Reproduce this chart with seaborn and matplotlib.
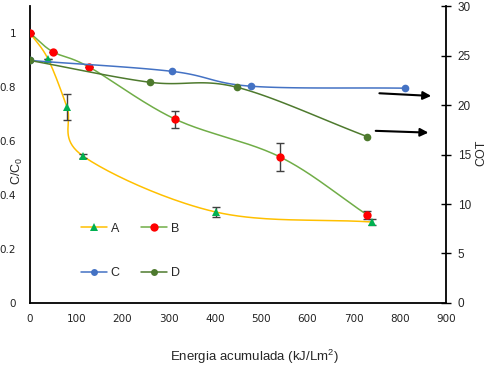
import numpy as np
import seaborn as sns
import matplotlib.pyplot as plt
from matplotlib.lines import Line2D

# ---------------------------------------------------------
# Datos
# ---------------------------------------------------------
a_x = [0, 39, 80, 115, 402, 740]
a_y = [1.0, 0.904, 0.726, 0.544, 0.337, 0.300]
a_err = [0, 0, 0.048, 0.008, 0.017, 0.010]

b_x = [0, 49, 128, 314, 541, 729]
b_y = [1.0, 0.931, 0.874, 0.681, 0.541, 0.327]
b_err = [0, 0, 0, 0.031, 0.053, 0.015]

# C y D se leen en el eje derecho (COT)
c_x = [0, 307, 478, 811]
c_cot = [24.5, 23.4, 21.9, 21.7]

d_x = [0, 259, 447, 730]
d_cot = [24.5, 22.3, 21.8, 16.8]

x_ticks = [0, 100, 200, 300, 400, 500, 600, 700, 800, 900]
left_ticks = [0, 0.2, 0.4, 0.6, 0.8, 1.0]
left_labels = ['0', '0.2', '0.4', '0.6', '0.8', '1']
right_ticks = [0, 5, 10, 15, 20, 25, 30]

col_yellow = '#FFC000'
col_tri = '#00B050'
col_red = '#FF0000'
col_bline = '#70AD47'
col_blue = '#4472C4'
col_dgreen = '#4E7A2E'
col_err = '#404040'


def smooth(x, y, n=40):
    # curva suavizada tipo Excel (Catmull-Rom) entre los puntos
    x = np.asarray(x, float)
    y = np.asarray(y, float)
    px = np.concatenate([[2 * x[0] - x[1]], x, [2 * x[-1] - x[-2]]])
    py = np.concatenate([[2 * y[0] - y[1]], y, [2 * y[-1] - y[-2]]])
    xs, ys = [], []
    t = np.linspace(0, 1, n)
    for i in range(1, len(px) - 2):
        for arr, out in ((px, xs), (py, ys)):
            p0, p1, p2, p3 = arr[i - 1], arr[i], arr[i + 1], arr[i + 2]
            m1 = (p2 - p0) / 2
            m2 = (p3 - p1) / 2
            h00 = 2 * t**3 - 3 * t**2 + 1
            h10 = t**3 - 2 * t**2 + t
            h01 = -2 * t**3 + 3 * t**2
            h11 = t**3 - t**2
            out.extend(h00 * p1 + h10 * m1 + h01 * p2 + h11 * m2)
    return np.array(xs), np.array(ys)


sns.set_theme(style="white")
plt.rcParams['font.family'] = ['DejaVu Sans']

fig = plt.figure(figsize=(4.89, 3.71), dpi=100)
ax = fig.add_axes([0.0613, 0.1833, 0.8507, 0.8005])
ax2 = ax.twinx()

mk = dict(ls='none', mew=0)

# Serie A
sx, sy = smooth(a_x, a_y)
sns.lineplot(x=sx, y=sy, sort=False, estimator=None, color=col_yellow, lw=1.1, ax=ax)
ax.errorbar(a_x, a_y, yerr=a_err, fmt='none', ecolor=col_err, elinewidth=1, capsize=3, capthick=1, zorder=4)
ax.plot(a_x, a_y, marker='^', ms=6, color=col_tri, zorder=5, **mk)

# Serie B
sx, sy = smooth(b_x, b_y)
sns.lineplot(x=sx, y=sy, sort=False, estimator=None, color=col_bline, lw=1.1, ax=ax)
ax.errorbar(b_x, b_y, yerr=b_err, fmt='none', ecolor=col_err, elinewidth=1, capsize=3, capthick=1, zorder=4)
ax.plot(b_x, b_y, marker='o', ms=6, color=col_red, zorder=5, **mk)

# Series C y D (eje derecho)
sx, sy = smooth(c_x, c_cot)
sns.lineplot(x=sx, y=sy, sort=False, estimator=None, color=col_blue, lw=1.1, ax=ax2)
ax2.plot(c_x, c_cot, marker='o', ms=5.5, color=col_blue, zorder=5, **mk)
sx, sy = smooth(d_x, d_cot)
sns.lineplot(x=sx, y=sy, sort=False, estimator=None, color=col_dgreen, lw=1.1, ax=ax2)
ax2.plot(d_x, d_cot, marker='o', ms=5.5, color=col_dgreen, zorder=6, **mk)

# Flechas hacia el eje COT
ax2.annotate('', xy=(874, 20.9), xytext=(750, 21.2),
             arrowprops=dict(arrowstyle='-|>', color='black', lw=1.5, mutation_scale=12))
ax2.annotate('', xy=(868, 17.2), xytext=(742, 17.4),
             arrowprops=dict(arrowstyle='-|>', color='black', lw=1.5, mutation_scale=12))

# Ejes
ax.set_xlim(0, 900)
ax.set_ylim(0, 1.1)
ax2.set_ylim(0, 30)
ax.set_xticks(x_ticks)
ax.set_xticklabels([str(v) for v in x_ticks], fontsize=7.5, color='#222222')
ax.set_yticks(left_ticks)
ax.set_yticklabels(left_labels, fontsize=7.5, color='#222222')
ax.tick_params(axis='both', length=0, pad=10)
ax.tick_params(axis='x', pad=8)
ax2.set_yticks(right_ticks)
ax2.set_yticklabels([str(v) for v in right_ticks], fontsize=8.5, family='Liberation Sans')
ax2.tick_params(axis='y', direction='inout', length=7, width=1, color='black', pad=5)

for a in (ax, ax2):
    for s in a.spines.values():
        s.set_visible(False)
ax.spines['left'].set_visible(True)
ax.spines['bottom'].set_visible(True)
ax2.spines['right'].set_visible(True)
for s in (ax.spines['left'], ax.spines['bottom'], ax2.spines['right']):
    s.set_color('black')
    s.set_linewidth(1.3)
ax.grid(False)
ax2.grid(False)

ax.set_xlabel('Energia acumulada (kJ/Lm$^{\\mathregular{2}}$)', fontsize=9.5, family='Liberation Sans')
ax.xaxis.set_label_coords(0.54, -0.15)
ax.set_ylabel('C/C$_{\\mathregular{0}}$', fontsize=9, family='Liberation Sans')
ax.yaxis.set_label_coords(-0.012, 0.445)
ax2.set_ylabel('COT', fontsize=9, family='Liberation Sans')
ax2.yaxis.set_label_coords(1.07, 0.505)

# Leyenda
handles = [
    Line2D([], [], color=col_yellow, lw=1.1, marker='^', ms=6, mfc=col_tri, mec=col_tri, mew=0),
    Line2D([], [], color=col_blue, lw=1.1, marker='o', ms=5, mfc=col_blue, mec=col_blue, mew=0),
    Line2D([], [], color=col_bline, lw=1.1, marker='o', ms=6, mfc=col_red, mec=col_red, mew=0),
    Line2D([], [], color=col_dgreen, lw=1.1, marker='o', ms=5, mfc=col_dgreen, mec=col_dgreen, mew=0),
]
ax2.legend(handles, ['A', 'C', 'B', 'D'], ncol=2, frameon=False,
           loc='upper left', bbox_to_anchor=(0.095, 0.308),
           prop={'family': 'Liberation Sans', 'size': 9},
           handlelength=2.1, handletextpad=0.3, columnspacing=1.7,
           labelspacing=2.6)

fig.savefig('out.png', dpi=100)
